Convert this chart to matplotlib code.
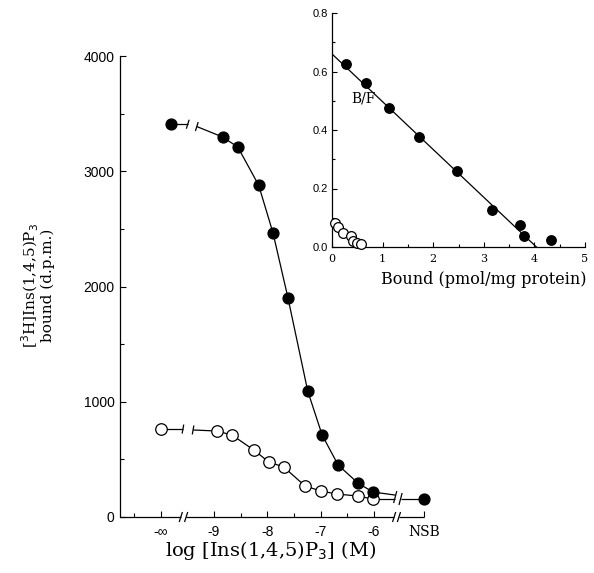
import matplotlib
matplotlib.use("Agg")
import matplotlib.pyplot as plt
import numpy as np

# ---------------- data (main panel) ----------------
NEG_INF_POS = -10.0          # position used for the "-inf" concentration
NSB_POS = -5.06              # position used for NSB
x_tick_pos = [-10.0, -9.0, -8.0, -7.0, -6.0, -5.06]
x_tick_labels = ["-\u221e", "-9", "-8", "-7", "-6", "NSB"]

filled_x = [-9.81, -8.83, -8.55, -8.16, -7.89, -7.61, -7.24, -6.97, -6.67, -6.30, -6.02]
filled_y = [3408, 3296, 3209, 2879, 2463, 1900, 1093, 711, 451, 295, 217]
filled_nsb = 156

open_x = [-10.0, -8.94, -8.66, -8.25, -7.97, -7.69, -7.29, -6.99, -6.69, -6.30, -6.02]
open_y = [763, 746, 711, 581, 477, 434, 269, 225, 199, 182, 156]
open_nsb = 156

# ---------------- data (inset, Scatchard) ----------------
ins_filled_x = [0.27, 0.68, 1.12, 1.72, 2.48, 3.16, 3.71, 3.80, 4.33]
ins_filled_y = [0.626, 0.562, 0.476, 0.377, 0.261, 0.126, 0.074, 0.038, 0.024]
ins_open_x = [0.06, 0.12, 0.21, 0.37, 0.41, 0.49, 0.57]
ins_open_y = [0.083, 0.069, 0.049, 0.039, 0.022, 0.015, 0.010]
fit_intercept_y = 0.66
fit_intercept_x = 4.04

W, H = 594, 573
fig = plt.figure(figsize=(W / 100, H / 100), dpi=100)

SERIF = "DejaVu Serif"
SANS = "Liberation Sans"

# main axes placement (pixels)
L, R, T, B = 120, 424, 56, 517
ax = fig.add_axes([L / W, 1 - B / H, (R - L) / W, (B - T) / H])
xmin, xmax = -10.76, NSB_POS
ax.set_xlim(xmin, xmax)
ax.set_ylim(0, 4000)
pxx = (R - L) / (xmax - xmin)      # px per x unit
pxy = (B - T) / 4000.0             # px per y unit

for s in ["top", "right", "bottom"]:
    ax.spines[s].set_visible(False)
ax.spines["left"].set_linewidth(0.9)

ax.set_yticks([0, 1000, 2000, 3000, 4000])
ax.set_yticks([500, 1500, 2500, 3500], minor=True)
ax.set_xticks(x_tick_pos)
ax.set_xticklabels(x_tick_labels)
ax.set_xticks([-10.5, -8.5, -7.5, -6.5], minor=True)
ax.tick_params(axis="both", which="major", direction="in", length=4, width=0.8)
ax.tick_params(axis="both", which="minor", direction="in", length=3, width=0.8)
ax.tick_params(axis="y", pad=4)
ax.tick_params(axis="x", pad=5.5)
for lab in ax.get_yticklabels():
    lab.set_fontfamily(SANS)
    lab.set_fontsize(10)
for lab in ax.get_xticklabels():
    lab.set_fontfamily(SANS)
    lab.set_fontsize(10)
ax.get_xticklabels()[-1].set_fontfamily(SERIF)

LW = 0.9


def slash(axh, x, y, hx, hy, px_x, px_y):
    axh.plot([x - hx / px_x, x + hx / px_x], [y - hy / px_y, y + hy / px_y],
             color="black", lw=LW, clip_on=False, solid_capstyle="butt")


def seg(axh, xs, ys):
    axh.plot(xs, ys, color="black", lw=LW, clip_on=False, solid_capstyle="butt")


# x axis drawn with breaks
ga1, gb1 = -9.62, -9.52
ga2, gb2 = -5.62, -5.53
seg(ax, [xmin, ga1], [0, 0])
seg(ax, [gb1, ga2], [0, 0])
seg(ax, [gb2, xmax], [0, 0])
for gx in (ga1, gb1, ga2, gb2):
    slash(ax, gx, 0, 1.6, 5, pxx, pxy)

# filled series
fb1, fb2 = -9.49, -9.32
seg(ax, [filled_x[0], fb1], [filled_y[0], filled_y[0]])
slash(ax, fb1, filled_y[0], 1.4, 4.5, pxx, pxy)
slash(ax, fb2, filled_y[0] - 20, 1.4, 4.5, pxx, pxy)
seg(ax, [fb2] + filled_x[1:], [filled_y[0] - 20] + filled_y[1:])
rb1, rb2 = -5.60, -5.50
yb1 = np.interp(rb1, [filled_x[-1], NSB_POS], [filled_y[-1], filled_nsb])
seg(ax, [filled_x[-1], rb1], [filled_y[-1], yb1])
seg(ax, [rb2, NSB_POS], [filled_nsb, filled_nsb])

# open series
ob1, ob2 = -9.58, -9.39
seg(ax, [open_x[0], ob1], [open_y[0], open_y[0]])
slash(ax, ob1, open_y[0], 0.8, 4.5, pxx, pxy)
slash(ax, ob2, open_y[0] - 8, 0.8, 4.5, pxx, pxy)
seg(ax, [ob2] + open_x[1:], [open_y[0] - 8] + open_y[1:])
seg(ax, [open_x[-1], rb1], [open_y[-1], open_nsb])
slash(ax, rb1, (yb1 + open_nsb) / 2, 1.6, 6, pxx, pxy)
slash(ax, rb2, filled_nsb, 1.6, 6, pxx, pxy)

ax.plot(open_x, open_y, "o", ms=8.3, mfc="white", mec="black", mew=0.9,
        clip_on=False, zorder=3)
ax.plot(filled_x, filled_y, "o", ms=7.8, mfc="black", mec="black",
        clip_on=False, zorder=4)
ax.plot([NSB_POS], [filled_nsb], "o", ms=7.8, mfc="black", mec="black",
        clip_on=False, zorder=4)

fig.text(271 / W, 1 - 551 / H, "log [Ins(1,4,5)P$_3$] (M)", ha="center",
         va="center", fontfamily=SERIF, fontsize=14)
fig.text(30 / W, 1 - 285 / H, "[$^3$H]Ins(1,4,5)P$_3$", rotation=90,
         ha="center", va="center", fontfamily=SERIF, fontsize=11)
fig.text(48 / W, 1 - 285 / H, "bound (d.p.m.)", rotation=90,
         ha="center", va="center", fontfamily=SERIF, fontsize=11)

# ---------------- inset ----------------
iL, iR, iT, iB = 332, 585, 13, 247
ia = fig.add_axes([iL / W, 1 - iB / H, (iR - iL) / W, (iB - iT) / H])
ia.set_xlim(0, 5)
ia.set_ylim(0, 0.8)
for s in ["top", "right"]:
    ia.spines[s].set_visible(False)
for s in ["left", "bottom"]:
    ia.spines[s].set_linewidth(0.9)
ia.set_xticks([0, 1, 2, 3, 4, 5])
ia.set_xticks([0.5, 1.5, 2.5, 3.5, 4.5], minor=True)
ia.set_yticks([0.0, 0.2, 0.4, 0.6, 0.8])
ia.set_yticklabels(["0.0", "0.2", "0.4", "0.6", "0.8"])
ia.set_yticks([0.1, 0.3, 0.5, 0.7], minor=True)
ia.tick_params(axis="both", which="major", direction="in", length=3.5, width=0.8)
ia.tick_params(axis="both", which="minor", direction="in", length=2.5, width=0.8)
ia.tick_params(axis="x", pad=5)
ia.tick_params(axis="y", pad=3)
for lab in ia.get_xticklabels():
    lab.set_fontfamily(SERIF)
    lab.set_fontsize(8)
for lab in ia.get_yticklabels():
    lab.set_fontfamily(SANS)
    lab.set_fontsize(8)

ia.plot([0, fit_intercept_x], [fit_intercept_y, 0], color="black", lw=LW)
ia.plot(ins_filled_x, ins_filled_y, "o", ms=6.8, mfc="black", mec="black",
        clip_on=False, zorder=4)
ia.plot(ins_open_x, ins_open_y, "o", ms=7.0, mfc="white", mec="black",
        mew=0.9, clip_on=False, zorder=3)

fig.text(484 / W, 1 - 279 / H, "Bound (pmol/mg protein)", ha="center",
         va="center", fontfamily=SERIF, fontsize=11.5)
fig.text(363 / W, 1 - 98 / H, "B/F", ha="center", va="center",
         fontfamily=SERIF, fontsize=10)

fig.savefig("out.png", dpi=100)
